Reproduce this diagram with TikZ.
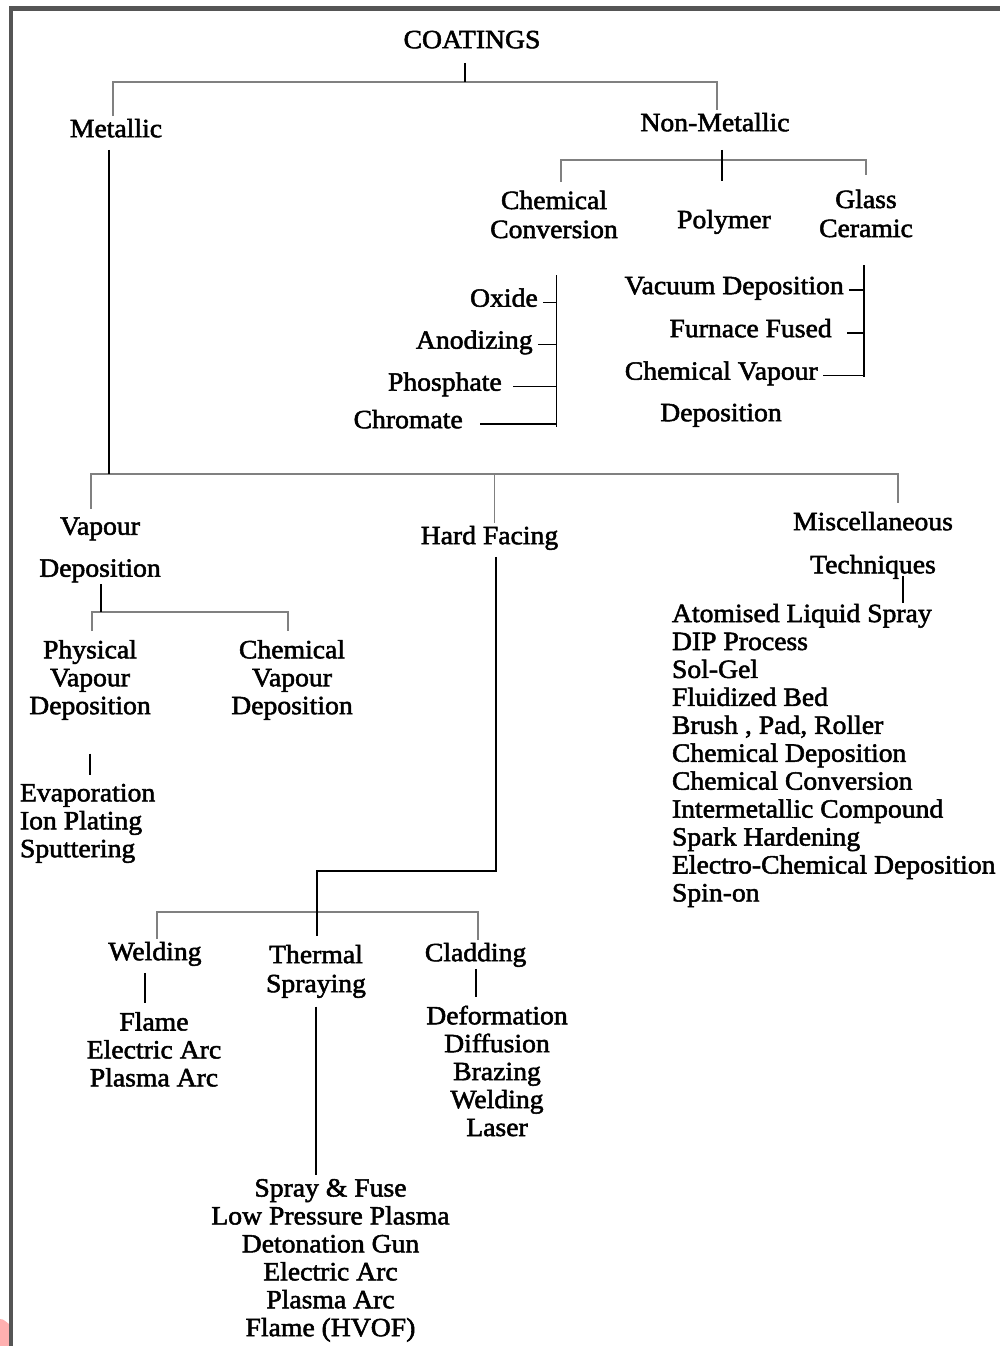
\documentclass[tikz,border=0pt]{standalone}
\usepackage{fontspec}
\setmainfont{Liberation Serif}[FakeBold=2,FakeStretch=1.05]
\newcommand{\chartfont}{\fontsize{15}{15.9}\selectfont}
\definecolor{framegray}{RGB}{85,85,85}
\definecolor{blush}{RGB}{255,176,176}

\begin{document}
\begin{tikzpicture}[
  x=0.02cm,y=-0.02cm,
  font=\chartfont,
  lbl/.style={inner sep=2pt,outer sep=3pt,align=center},
  word/.style={lbl,text height=0.7em,text depth=0.22em},
  item/.style={inner sep=2pt,outer sep=1pt,text height=0.7em,text depth=0.22em},
  stem/.style={line width=1.1pt,black},
  brace/.style={line width=1.1pt,black!50},
  pageframe/.style={line width=2.3pt,framegray}
]
\useasboundingbox (0,0) rectangle (1000,1346);
\fill[blush] (0,1319) .. controls (4,1319) and (6,1322) .. (9,1324) -- (9,1346) -- (0,1346) -- cycle;
\draw[pageframe] (10.8,1346) -- (10.8,8.5) -- (1000,8.5);

\node[word] (coat) at (472,44) {COATINGS};
\node[word] (metal) at (116,133) {Metallic};
\node[word] (nonmet) at (715,127) {Non-Metallic};
\node[lbl] (chconv) at (554,214.5) {Chemical\\[0.6pt]Conversion};
\node[word] (poly) at (724,224) {Polymer};
\node[lbl] (glass) at (866,213.5) {Glass\\[0.6pt]Ceramic};
\node[item,anchor=east] (oxide) at (543,302.5) {Oxide};
\node[item,anchor=east] (anod) at (538,344.5) {Anodizing};
\node[item,anchor=east] (phos) at (507,386.5) {Phosphate};
\node[item,anchor=east] (chrom) at (468,424) {Chromate};
\node[item,anchor=east] (vac) at (849,290) {Vacuum Deposition};
\node[item,anchor=east] (furn) at (837,333) {Furnace Fused};
\node[item,anchor=east] (cvap) at (823,375.5) {Chemical Vapour};
\node[word] (cvapdep) at (721,417) {Deposition};
\node[lbl] (vapdep) at (100,549.9) {Vapour\\[8pt]Deposition};
\node[word] (hard) at (489.5,540) {Hard Facing};
\node[lbl] (misc) at (873,545.4) {Miscellaneous\\[8.6pt]Techniques};
\node[lbl] (phys) at (90,679.9) {Physical\\Vapour\\Deposition};
\node[lbl] (cvd) at (292,679.9) {Chemical\\Vapour\\Deposition};
\node[lbl,align=left,anchor=west] (evap) at (11.2,823.4) {Evaporation\\Ion Plating\\Sputtering};
\node[lbl,align=left,anchor=west] (misclist) at (663.2,755.4) {Atomised Liquid Spray\\DIP Process\\Sol-Gel\\Fluidized Bed\\Brush , Pad, Roller\\Chemical Deposition\\Chemical Conversion\\Intermetallic Compound\\Spark Hardening\\Electro-Chemical Deposition\\Spin-on};
\node[word] (weld) at (155,956) {Welding};
\node[lbl] (therm) at (316,971.4) {Thermal\\[0.6pt]Spraying};
\node[word] (clad) at (475.6,957) {Cladding};
\node[lbl] (flm) at (154,1049.4) {Flame\\Electric Arc\\Plasma Arc};
\node[lbl] (spray) at (330.5,1260.4) {Spray \& Fuse\\Low Pressure Plasma\\Detonation Gun\\Electric Arc\\Plasma Arc\\Flame (HVOF)};
\node[lbl] (cldl) at (497,1071) {Deformation\\Diffusion\\Brazing\\Welding\\Laser};

\coordinate (j0) at (465,82);
\coordinate (tb-l) at (113,82);
\coordinate (tb-r) at (717,82);
\draw[brace] (metal.north -| tb-l) -- (tb-l) -- (tb-r) -- (nonmet.north -| tb-r);
\draw[stem] ([yshift=-0.04cm]coat.south -| j0) -- (j0);

\coordinate (nm-l) at (561,160);
\coordinate (nm-r) at (866,160);
\coordinate (nm-end) at (722,181);
\draw[brace] (chconv.north -| nm-l) -- (nm-l) -- (nm-r) -- ([yshift=0.12cm]glass.north -| nm-r);
\draw[stem] ([yshift=-0.12cm]nonmet.south -| nm-end) -- (nm-end);

\coordinate (cc-top) at (556.5,275);
\coordinate (cc-bot) at (556.5,427);
\draw[stem] (cc-top) -- (cc-bot);
\draw[stem] (oxide.east) -- (oxide.east -| cc-top);
\draw[stem] (anod.east) -- (anod.east -| cc-top);
\draw[stem] ([xshift=0.12cm]phos.east) -- (phos.east -| cc-top);
\draw[stem] ([xshift=0.24cm]chrom.east) -- (chrom.east -| cc-top);

\coordinate (gc-top) at (864,265);
\coordinate (gc-bot) at (864,377);
\draw[stem] (gc-top) -- (gc-bot);
\draw[stem] (vac.east) -- (vac.east -| gc-top);
\draw[stem] ([xshift=0.2cm]furn.east) -- (furn.east -| gc-top);
\draw[stem] (cvap.east) -- (cvap.east -| gc-top);

\coordinate (mt) at (109,474);
\coordinate (mb-l) at (91,474);
\coordinate (mb-r) at (898,474);
\coordinate (mb-h) at (494.5,474);
\draw[brace] (vapdep.north -| mb-l) -- (mb-l) -- (mb-r) -- (misc.north -| mb-r);
\draw[brace] (mb-h) -- (hard.north -| mb-h);
\draw[stem] (metal.south -| mt) -- (mt);

\coordinate (vd-l) at (92,612);
\coordinate (vd-r) at (288,612);
\coordinate (vd-m) at (101,612);
\draw[brace] (phys.north -| vd-l) -- (vd-l) -- (vd-r) -- (cvd.north -| vd-r);
\draw[stem] ([yshift=0.14cm]vapdep.south -| vd-m) -- (vd-m);
\draw[stem] ([yshift=-0.5cm]phys.south) -- (phys.south |- evap.north);

\draw[stem] ([xshift=0.6cm,yshift=0.24cm]misc.south) -- ([xshift=0.6cm,yshift=-0.16cm]misc.south |- misclist.north);

\coordinate (hf-a) at (496,871);
\coordinate (hf-b) at (317,871);
\coordinate (hb-l) at (157,912);
\coordinate (hb-r) at (478,912);
\draw[brace] (weld.north -| hb-l) -- (hb-l) -- (hb-r) -- (clad.north -| hb-r);
\draw[stem] (hard.south -| hf-a) -- (hf-a) -- (hf-b) -- (therm.north -| hf-b);

\draw[stem] ([xshift=-0.2cm]weld.south) -- ([xshift=-0.2cm]weld.south |- flm.north);
\draw[stem] (therm.south) -- ([yshift=-0.1cm]therm.south |- spray.north);
\draw[stem] ([yshift=0.1cm]clad.south) -- (clad.south |- cldl.north);
\end{tikzpicture}
\end{document}
